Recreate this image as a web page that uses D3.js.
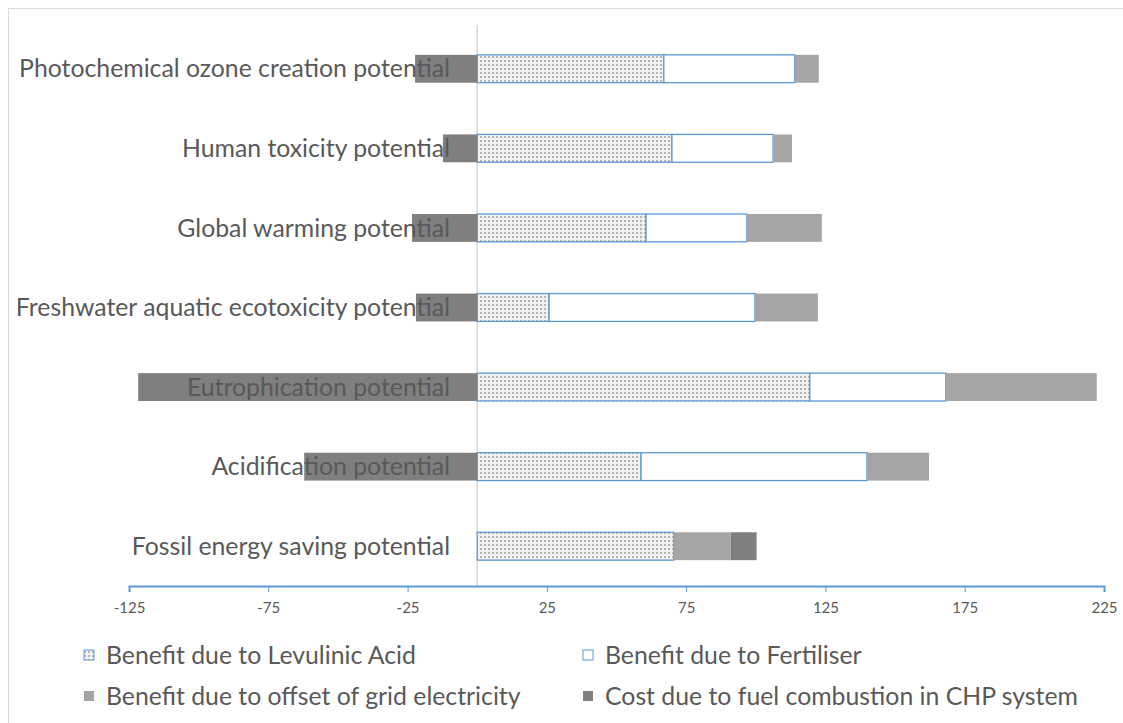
<!DOCTYPE html>
<html>
<head>
<meta charset="utf-8">
<script src="https://cdn.jsdelivr.net/npm/d3@7"></script>
<style>
  body { margin: 0; background: #fff; }
  svg { display: block; font-family: Lato, "Open Sans", sans-serif; }
</style>
</head>
<body>
<div id="chart"></div>
<script>
var categories = [
    'Photochemical ozone creation potential',
    'Human toxicity potential',
    'Global warming potential',
    'Freshwater aquatic ecotoxicity potential',
    'Eutrophication potential',
    'Acidification potential',
    'Fossil energy saving potential'
];
var seriesNames = [
    'Benefit due to Levulinic Acid',
    'Benefit due to Fertiliser',
    'Benefit due to offset of grid electricity',
    'Cost due to fuel combustion in CHP system'
];
var levulinic = [67.0, 69.9, 60.6, 25.8, 119.4, 58.8, 70.6];
var fertiliser = [47.0, 36.3, 36.2, 73.9, 48.8, 81.1, 0];
var gridOffset = [8.6, 6.8, 26.9, 22.6, 54.2, 22.3, 20.4];
var chpCost = [-22.3, -12.3, -23.4, -22.0, -121.7, -62.1, 9.3];
var tickValues = [-125, -75, -25, 25, 75, 125, 175, 225];

var width = 1123, height = 723;
var svg = d3.select('#chart').append('svg')
    .attr('width', width)
    .attr('height', height);

// chart frame
svg.append('rect')
    .attr('x', 8.5).attr('y', 8.5)
    .attr('width', 1130).attr('height', 730)
    .attr('fill', 'none')
    .attr('stroke', '#d9d9d9');

var defs = svg.append('defs');
var pat = defs.append('pattern')
    .attr('id', 'dots')
    .attr('patternUnits', 'userSpaceOnUse')
    .attr('width', 4).attr('height', 4);
pat.append('rect').attr('width', 4).attr('height', 4).attr('fill', '#f2f2f2');
pat.append('rect').attr('x', 0).attr('y', 0).attr('width', 2).attr('height', 2).attr('fill', '#b5b5b5');

var x = d3.scaleLinear().domain([-125, 225]).range([129, 1104]);
var y = d3.scaleBand().domain(categories).range([29, 586])
    .paddingInner(0.65).paddingOuter(0.325);

var rows = categories.map(function(c, i) {
    return { cat: c, la: levulinic[i], fert: fertiliser[i], grid: gridOffset[i], cost: chpCost[i] };
});
var keys = ['la', 'fert', 'grid', 'cost'];
var stacked = d3.stack().keys(keys).offset(d3.stackOffsetDiverging)(rows);

var fills = { la: 'url(#dots)', fert: '#ffffff', grid: '#a5a5a5', cost: '#7f7f7f' };
var strokes = { la: '#5b9bd5', fert: '#5b9bd5', grid: 'none', cost: 'none' };

// zero line
svg.append('line')
    .attr('x1', x(0)).attr('x2', x(0))
    .attr('y1', 25).attr('y2', 586)
    .attr('stroke', '#d9d9d9').attr('stroke-width', 1.5);

svg.append('g').selectAll('g')
    .data(stacked)
    .enter().append('g')
    .each(function(s) {
        d3.select(this).selectAll('rect')
            .data(s.filter(function(d) { return d[1] !== d[0]; }))
            .enter().append('rect')
            .attr('x', function(d) { return x(Math.min(d[0], d[1])); })
            .attr('y', function(d) { return y(d.data.cat); })
            .attr('width', function(d) { return Math.abs(x(d[1]) - x(d[0])); })
            .attr('height', y.bandwidth())
            .attr('fill', fills[s.key])
            .attr('stroke', strokes[s.key])
            .attr('stroke-width', 1.3);
    });

// category labels drawn above the bars
svg.append('g').selectAll('text')
    .data(categories)
    .enter().append('text')
    .attr('x', 450)
    .attr('y', function(d) { return y(d) + y.bandwidth() / 2; })
    .attr('dy', '0.35em')
    .attr('text-anchor', 'end')
    .attr('font-size', 24.8)
    .attr('fill', '#595959')
    .text(function(d) { return d; });

// x axis
var axis = svg.append('g')
    .attr('transform', 'translate(0,586)')
    .call(d3.axisBottom(x).tickValues(tickValues).tickSize(6).tickPadding(10)
        .tickFormat(function(d) { return String(d); }));
axis.select('.domain').attr('stroke', '#5b9bd5').attr('stroke-width', 2);
axis.selectAll('.tick line').attr('stroke', '#5b9bd5');
axis.selectAll('.tick text')
    .attr('fill', '#595959')
    .attr('font-size', 15)
    .attr('font-family', 'Lato, sans-serif');

// legend
var legendPos = [[84, 655], [583, 655], [84, 696], [583, 696]];
var legend = svg.append('g').selectAll('g')
    .data(keys)
    .enter().append('g')
    .attr('transform', function(d, i) { return 'translate(' + legendPos[i][0] + ',' + legendPos[i][1] + ')'; });
legend.append('rect')
    .attr('x', 0).attr('y', -5)
    .attr('width', 10).attr('height', 10)
    .attr('fill', function(d) { return fills[d]; })
    .attr('stroke', function(d) { return strokes[d]; });
legend.append('text')
    .attr('x', 22).attr('dy', '0.35em')
    .attr('font-size', 24.8)
    .attr('fill', '#595959')
    .text(function(d, i) { return seriesNames[i]; });
</script>
</body>
</html>
